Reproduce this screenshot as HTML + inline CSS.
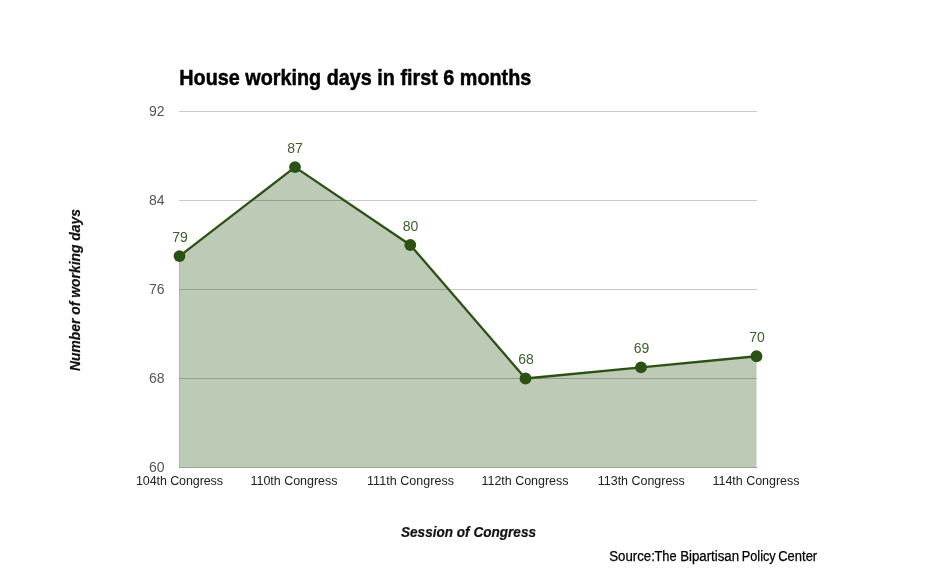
<!DOCTYPE html>
<html><head><meta charset="utf-8">
<style>
html,body{margin:0;padding:0;background:#fff;}
body{width:935px;height:578px;overflow:hidden;position:relative;font-family:"Liberation Sans",sans-serif;}
svg{position:absolute;left:0;top:0;will-change:transform;}
</style></head>
<body>
<svg width="935" height="578" viewBox="0 0 935 578" font-family="Liberation Sans, sans-serif">
  <rect x="0" y="0" width="935" height="578" fill="#ffffff"/>
  <!-- title -->
  <text transform="translate(0,85) scale(1,1.06) translate(0,-85)" x="179.3" y="85" font-size="20" font-weight="bold" fill="#000" stroke="#000" stroke-width="0.45" textLength="352"  lengthAdjust="spacingAndGlyphs">House working days in first 6 months</text>
  <!-- area -->
  <polygon points="179,256.12 295,167.12 410.3,245.0 525.5,378.5 641,367.38 756.5,356.25 756.5,467 179,467" fill="#bdcab6"/>
  <!-- gridlines -->
  <g stroke="#000" stroke-opacity="0.21" stroke-width="1">
    <line x1="179" y1="111.5" x2="757" y2="111.5"/>
    <line x1="179" y1="200.5" x2="757" y2="200.5"/>
    <line x1="179" y1="289.5" x2="757" y2="289.5"/>
    <line x1="179" y1="378.5" x2="757" y2="378.5"/>
  </g>
  <line x1="179.5" y1="258" x2="179.5" y2="467" stroke="#000" stroke-opacity="0.07" stroke-width="1"/>
  <line x1="179" y1="467.5" x2="757" y2="467.5" stroke="#9aa294" stroke-width="1"/>
  <!-- line -->
  <polyline points="179.5,256.12 295,167.12 410.3,245.0 525.5,378.5 641,367.38 756.5,356.25" fill="none" stroke="#2b5214" stroke-width="2.3" stroke-linejoin="round"/>
  <g fill="#2b5214">
    <circle cx="179.5" cy="256.12" r="5.9"/>
    <circle cx="295" cy="167.12" r="5.9"/>
    <circle cx="410.3" cy="245.0" r="5.9"/>
    <circle cx="525.5" cy="378.5" r="5.9"/>
    <circle cx="641" cy="367.38" r="5.9"/>
    <circle cx="756.5" cy="356.25" r="5.9"/>
  </g>
  <!-- data labels -->
  <g font-size="14" fill="#3f6029" text-anchor="middle">
    <text x="180" y="242">79</text>
    <text x="295" y="153">87</text>
    <text x="410.5" y="231">80</text>
    <text x="526" y="364">68</text>
    <text x="641.5" y="353">69</text>
    <text x="757" y="342">70</text>
  </g>
  <!-- y axis labels -->
  <g font-size="14" fill="#555" text-anchor="end">
    <text x="164.5" y="116">92</text>
    <text x="164.5" y="205">84</text>
    <text x="164.5" y="294">76</text>
    <text x="164.5" y="383">68</text>
    <text x="164.5" y="472">60</text>
  </g>
  <!-- x axis labels -->
  <g font-size="12.5" fill="#222" text-anchor="middle">
    <text x="179.5" y="485" textLength="87" lengthAdjust="spacing">104th Congress</text>
    <text x="294" y="485" textLength="87" lengthAdjust="spacing">110th Congress</text>
    <text x="410.5" y="485" textLength="87" lengthAdjust="spacing">111th Congress</text>
    <text x="525" y="485" textLength="87" lengthAdjust="spacing">112th Congress</text>
    <text x="641.3" y="485" textLength="87" lengthAdjust="spacing">113th Congress</text>
    <text x="756" y="485" textLength="87" lengthAdjust="spacing">114th Congress</text>
  </g>
  <!-- axis titles -->
  <text x="401" y="537" font-size="14" font-weight="bold" font-style="italic" fill="#111" stroke="#111" stroke-width="0.2" textLength="135" lengthAdjust="spacingAndGlyphs">Session of Congress</text>
  <text transform="translate(79.5,371) rotate(-90)" font-size="14" font-weight="bold" font-style="italic" fill="#111" stroke="#111" stroke-width="0.2" textLength="162" lengthAdjust="spacingAndGlyphs">Number of working days</text>
  <!-- source -->
  <g font-size="14" fill="#000" stroke="#000" stroke-width="0.25">
    <text x="609.3" y="561" textLength="45.6" lengthAdjust="spacingAndGlyphs">Source:</text>
    <text x="654.4" y="561" textLength="22.2" lengthAdjust="spacingAndGlyphs">The</text>
    <text x="680.2" y="561" textLength="58.9" lengthAdjust="spacingAndGlyphs">Bipartisan</text>
    <text x="741.8" y="561" textLength="33.9" lengthAdjust="spacingAndGlyphs">Policy</text>
    <text x="778.2" y="561" textLength="39.0" lengthAdjust="spacingAndGlyphs">Center</text>
  </g>
</svg>
</body></html>
